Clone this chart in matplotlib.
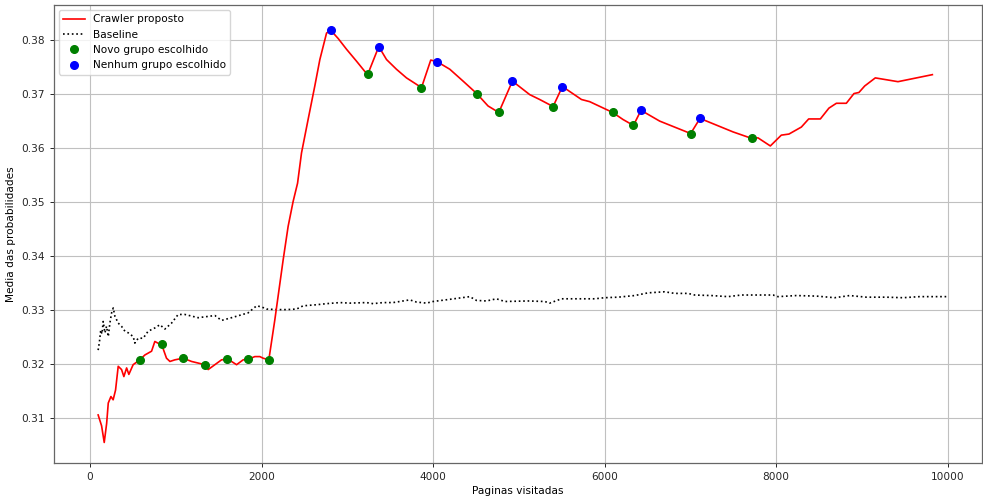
import matplotlib
matplotlib.use("Agg")
import matplotlib.pyplot as plt

# Crawler proposto (red line)
crawler_x = [95, 135, 166, 194, 213, 244, 270, 298, 329, 368, 395, 427, 453, 503,
             581, 640, 718, 756, 803, 834, 892, 932, 990, 1086, 1184, 1261, 1339,
             1378, 1456, 1534, 1592, 1650, 1709, 1786, 1844, 1922, 1980, 2019, 2085,
             2155, 2252, 2310, 2368, 2420, 2466, 2543, 2621, 2680, 2758, 2808,
             2893, 2991, 3107, 3204, 3242, 3367, 3457, 3573, 3690, 3807, 3865,
             3973, 4047, 4195, 4350, 4509, 4641, 4766, 4925, 5127, 5243, 5399,
             5508, 5730, 5826, 6094, 6214, 6336, 6424, 6642, 7003, 7112, 7497,
             7714, 7788, 7932, 8060, 8149, 8294, 8379, 8515, 8615, 8702, 8818,
             8907, 8965, 9032, 9156, 9420, 9821]
crawler_y = [0.3105, 0.3085, 0.3054, 0.3089, 0.3127, 0.3139, 0.3133, 0.3151, 0.3195,
             0.3189, 0.3176, 0.3192, 0.3180, 0.3198, 0.3207, 0.3216, 0.3223, 0.3241,
             0.3237, 0.3236, 0.3210, 0.3204, 0.3207, 0.3210, 0.3204, 0.3201, 0.3198,
             0.3189, 0.3198, 0.3207, 0.3208, 0.3204, 0.3198, 0.3207, 0.3208, 0.3213,
             0.3213, 0.3210, 0.3207, 0.3281, 0.3392, 0.3454, 0.3500, 0.3534, 0.3590,
             0.3652, 0.3714, 0.3763, 0.3812, 0.3817, 0.3802, 0.3782, 0.3760, 0.3741,
             0.3737, 0.3787, 0.3763, 0.3745, 0.3729, 0.3717, 0.3711, 0.3762, 0.3759,
             0.3745, 0.3723, 0.3700, 0.3677, 0.3665, 0.3723, 0.3698, 0.3689, 0.3676,
             0.3713, 0.3689, 0.3685, 0.3665, 0.3652, 0.3641, 0.3669, 0.3649, 0.3626,
             0.3654, 0.3629, 0.3617, 0.3618, 0.3603, 0.3623, 0.3625, 0.3638, 0.3653,
             0.3653, 0.3673, 0.3682, 0.3682, 0.3700, 0.3702, 0.3714, 0.3729, 0.3722,
             0.3735]

# Baseline (black dotted)
base_x = [95, 110, 125, 140, 154, 174, 193, 213, 232, 252, 271, 290, 329, 368, 407,
          446, 504, 523, 562, 620, 678, 756, 815, 873, 951, 1028, 1106, 1261, 1456,
          1534, 1650, 1844, 1942, 2000, 2058, 2175, 2291, 2408, 2485, 2641, 2758,
          2913, 3029, 3224, 3301, 3417, 3534, 3728, 3806, 3923, 4000, 4195, 4428,
          4506, 4622, 4739, 4836, 5107, 5302, 5360, 5497, 5690, 5885, 5999, 6156,
          6350, 6506, 6700, 6817, 6972, 7050, 7245, 7438, 7594, 7808, 7963, 8021,
          8235, 8469, 8682, 8857, 9052, 9285, 9478, 9672, 9983]
base_y = [0.3225, 0.3240, 0.3262, 0.3255, 0.3278, 0.3257, 0.3269, 0.3250, 0.3275,
          0.3294, 0.3303, 0.3288, 0.3275, 0.3269, 0.3260, 0.3257, 0.3250, 0.3238,
          0.3247, 0.3247, 0.3260, 0.3266, 0.3272, 0.3264, 0.3275, 0.3291, 0.3291,
          0.3285, 0.3289, 0.3280, 0.3285, 0.3294, 0.3307, 0.3305, 0.3301, 0.3300,
          0.3300, 0.3301, 0.3307, 0.3309, 0.3311, 0.3313, 0.3312, 0.3313, 0.3311,
          0.3313, 0.3313, 0.3318, 0.3314, 0.3312, 0.3315, 0.3319, 0.3324, 0.3317,
          0.3316, 0.3320, 0.3315, 0.3316, 0.3315, 0.3312, 0.3320, 0.3320, 0.3320,
          0.3322, 0.3323, 0.3326, 0.3331, 0.3333, 0.3330, 0.3330, 0.3327, 0.3326,
          0.3324, 0.3327, 0.3327, 0.3327, 0.3324, 0.3326, 0.3325, 0.3322, 0.3326,
          0.3323, 0.3323, 0.3322, 0.3324, 0.3324]

# Novo grupo escolhido (green points)
novo_x = [581, 834, 1086, 1339, 1592, 1844, 2085, 3242, 3865, 4509, 4766, 5399,
          6094, 6336, 7003, 7714]
novo_y = [0.3207, 0.3236, 0.3210, 0.3198, 0.3208, 0.3208, 0.3207, 0.3737, 0.3711,
          0.3700, 0.3665, 0.3676, 0.3665, 0.3641, 0.3626, 0.3617]

# Nenhum grupo escolhido (blue points)
nenhum_x = [2808, 3367, 4047, 4925, 5508, 6424, 7112]
nenhum_y = [0.3817, 0.3787, 0.3759, 0.3723, 0.3713, 0.3669, 0.3654]

x_ticks = [0, 2000, 4000, 6000, 8000, 10000]
y_ticks = [0.31, 0.32, 0.33, 0.34, 0.35, 0.36, 0.37, 0.38]

plt.rcParams['font.family'] = ['DejaVu Sans']
plt.rcParams['font.size'] = 7.6

fig = plt.figure(figsize=(9.83, 4.98), dpi=100)
ax = fig.add_axes([0.0549, 0.0703, 0.9441, 0.9197])

ax.plot(crawler_x, crawler_y, color='red', lw=1.2, label='Crawler proposto', zorder=3)
ax.plot(base_x, base_y, color='black', lw=1.2, ls=':', label='Baseline', zorder=2)
ax.plot(novo_x, novo_y, 'o', color='green', ms=5.5, label='Novo grupo escolhido', zorder=4)
ax.plot(nenhum_x, nenhum_y, 'o', color='blue', ms=5.5, label='Nenhum grupo escolhido', zorder=4)

ax.set_xlim(-420, 10400)
ax.set_ylim(0.3016, 0.3864)
ax.set_xticks(x_ticks)
ax.set_yticks(y_ticks)
ax.set_yticklabels([f"{v:.2f}" for v in y_ticks])
ax.tick_params(length=3, width=0.7, colors='0.15')
ax.grid(True, color='#c0c0c0', lw=0.8)
for s in ax.spines.values():
    s.set_color('0.4')
    s.set_linewidth(0.9)

ax.set_xlabel('Paginas visitadas', labelpad=3)
ax.set_ylabel('Media das probabilidades', labelpad=4)
ax.legend(loc='upper left', framealpha=0.8)

fig.savefig('out.png', dpi=100)
